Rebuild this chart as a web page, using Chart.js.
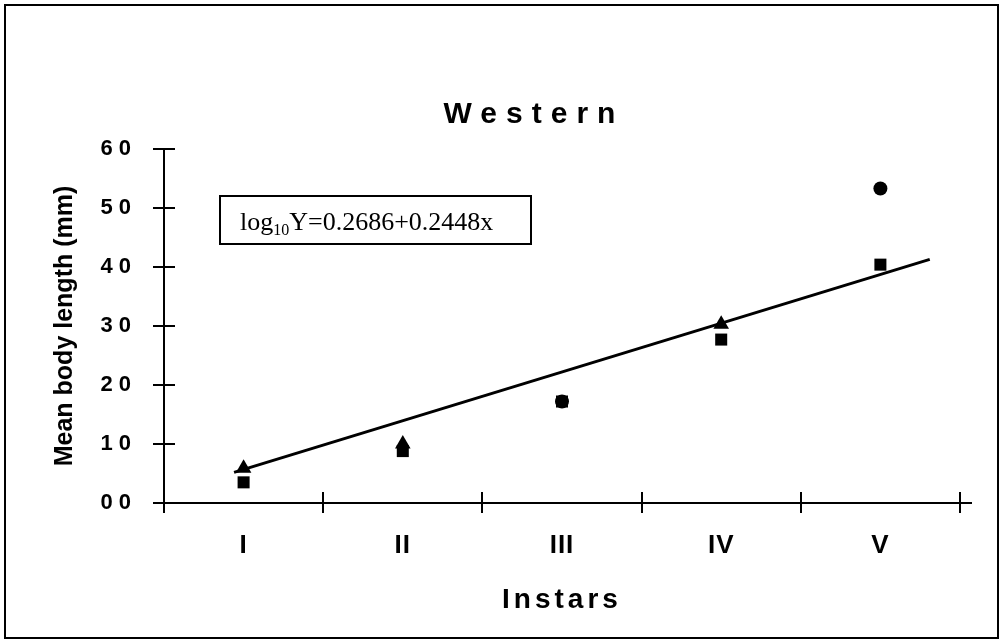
<!DOCTYPE html>
<html>
<head>
<meta charset="utf-8">
<title>Western</title>
<script src="https://cdn.jsdelivr.net/npm/chart.js@4/dist/chart.umd.min.js"></script>
<style>
  html, body { margin: 0; padding: 0; background: #fff; }
  #wrap { width: 1004px; height: 644px; position: relative; }
</style>
</head>
<body>
<div id="wrap"><canvas id="c" width="1004" height="644"></canvas></div>
<script>
// Instar stages along the x axis
const instars = ['I', 'II', 'III', 'IV', 'V'];

// y axis ticks and their printed labels
const yTickValues = [0, 10, 20, 30, 40, 50, 60];
const yTickLabels = ['00', '10', '20', '30', '40', '50', '60'];

// mean body length (mm) per instar, square markers
const lengthSquare = [3.5, 8.8, 17.2, 27.7, 40.4];
// mean body length (mm) per instar, upper markers
const lengthUpper = [5.9, 10.0, 17.2, 30.3, 53.3];
const upperMarkers = ['triangle', 'triangle', 'circle', 'triangle', 'circle'];

// fitted trend line, end points (instar index, length)
const trendX = [0.94, 5.31];
const trendY = [5.2, 41.3];

// regression equation shown in the box
const equationParts = ['log', '10', 'Y=0.2686+0.2448x'];

const SANS = '"Liberation Sans", Arial, Helvetica, sans-serif';
const SERIF = '"Liberation Serif", "Times New Roman", Times, serif';

function withSpacing(obj, method, px) {
  const orig = obj[method];
  obj[method] = function (...args) {
    const ctx = this.ctx;
    ctx.save();
    ctx.letterSpacing = px + 'px';
    const r = orig.apply(this, args);
    ctx.restore();
    return r;
  };
}

const decorations = {
  id: 'decorations',
  afterLayout(chart) {
    // centre the title a little right of the canvas middle
    chart.titleBlock.left = 64;
    chart.titleBlock.right = chart.width;
  },
  beforeDraw(chart) {
    const ctx = chart.ctx;
    ctx.save();
    ctx.fillStyle = '#fff';
    ctx.fillRect(0, 0, chart.width, chart.height);
    ctx.restore();
    if (!chart.$spacingSet) {
      chart.$spacingSet = true;
      withSpacing(chart.titleBlock, 'draw', 9);
      withSpacing(chart.scales.y, 'drawLabels', 6);
      withSpacing(chart.scales.x, 'drawLabels', 1);
      withSpacing(chart.scales.x, 'drawTitle', 4);
    }
  },
  afterDraw(chart) {
    const ctx = chart.ctx;
    const xs = chart.scales.x, ys = chart.scales.y;
    ctx.save();
    ctx.strokeStyle = '#000';
    ctx.lineWidth = 2;
    ctx.beginPath();
    // inner halves of the crossing tick marks
    ys.ticks.forEach(t => {
      const p = Math.round(ys.getPixelForValue(t.value));
      ctx.moveTo(xs.left, p);
      ctx.lineTo(xs.left + 11, p);
    });
    xs.ticks.forEach(t => {
      if (!Number.isInteger(t.value)) {
        const p = Math.round(xs.getPixelForValue(t.value));
        ctx.moveTo(p, ys.bottom);
        ctx.lineTo(p, ys.bottom - 11);
      }
    });
    // x axis runs on past the last tick
    ctx.moveTo(xs.right, Math.round(ys.bottom));
    ctx.lineTo(xs.right + 12, Math.round(ys.bottom));
    ctx.stroke();

    // equation box
    ctx.lineWidth = 2;
    ctx.strokeRect(220, 196, 311, 48);
    ctx.fillStyle = '#000';
    ctx.textBaseline = 'alphabetic';
    ctx.textAlign = 'left';
    let x = 240;
    const base = 230;
    ctx.font = '26px ' + SERIF;
    ctx.fillText(equationParts[0], x, base);
    x += ctx.measureText(equationParts[0]).width;
    ctx.font = '16px ' + SERIF;
    ctx.fillText(equationParts[1], x, base + 5);
    x += ctx.measureText(equationParts[1]).width;
    ctx.font = '26px ' + SERIF;
    ctx.fillText(equationParts[2], x, base);

    // outer frame
    ctx.lineWidth = 2;
    ctx.strokeRect(5, 5, 993, 633);
    ctx.restore();
  }
};

new Chart(document.getElementById('c'), {
  type: 'scatter',
  data: {
    datasets: [
      {
        label: 'Trend',
        type: 'line',
        data: trendX.map((x, i) => ({ x, y: trendY[i] })),
        borderColor: '#000',
        borderWidth: 3,
        pointRadius: 0,
        fill: false,
        tension: 0,
        order: 0
      },
      {
        label: 'Upper',
        data: instars.map((_, i) => ({ x: i + 1, y: lengthUpper[i] })),
        pointStyle: upperMarkers,
        pointRadius: [9, 9, 7, 9, 7],
        backgroundColor: '#000',
        borderColor: '#000',
        borderWidth: 0,
        order: 1
      },
      {
        label: 'Square',
        data: instars.map((_, i) => ({ x: i + 1, y: lengthSquare[i] })),
        pointStyle: 'rect',
        pointRadius: 8.5,
        backgroundColor: '#000',
        borderColor: '#000',
        borderWidth: 0,
        order: 2
      }
    ]
  },
  options: {
    responsive: false,
    devicePixelRatio: 1,
    animation: false,
    events: [],
    layout: { padding: { left: 0, right: 44, top: 0, bottom: 0 } },
    plugins: {
      legend: { display: false },
      tooltip: { enabled: false },
      title: {
        display: true,
        text: 'Western',
        color: '#000',
        font: { family: SANS, size: 30, weight: 'bold' },
        padding: { top: 97, bottom: 16 }
      }
    },
    scales: {
      x: {
        type: 'linear',
        min: 0.5,
        max: 5.5,
        afterBuildTicks: s => {
          const ticks = [];
          for (let i = 0; i <= instars.length; i++) {
            ticks.push({ value: i + 0.5 });
            if (i < instars.length) ticks.push({ value: i + 1 });
          }
          s.ticks = ticks;
        },
        ticks: {
          autoSkip: false,
          maxRotation: 0,
          color: '#000',
          padding: 17,
          font: { family: SANS, size: 26, weight: 'bold' },
          callback: v => (Number.isInteger(v) ? instars[v - 1] : '')
        },
        grid: {
          drawOnChartArea: false,
          drawTicks: true,
          tickLength: 10,
          lineWidth: 2,
          color: c => (c.tick && Number.isInteger(c.tick.value) ? 'rgba(0,0,0,0)' : '#000')
        },
        border: { display: true, color: '#000', width: 2 },
        title: {
          display: true,
          text: 'Instars',
          color: '#000',
          font: { family: SANS, size: 28, weight: 'bold' },
          padding: { top: 0, bottom: 27 }
        },
        afterFit: s => { s.height = 141; }
      },
      y: {
        min: 0,
        max: 60,
        afterBuildTicks: s => { s.ticks = yTickValues.map(v => ({ value: v })); },
        ticks: {
          color: '#000',
          padding: 16,
          font: { family: SANS, size: 22, weight: 'bold' },
          callback: (v, i) => yTickLabels[i]
        },
        grid: {
          drawOnChartArea: false,
          drawTicks: true,
          tickLength: 11,
          lineWidth: 2,
          color: '#000'
        },
        border: { display: true, color: '#000', width: 2 },
        title: {
          display: true,
          text: 'Mean body length (mm)',
          color: '#000',
          font: { family: SANS, size: 25, weight: 'bold' },
          padding: { top: 50, bottom: 0 }
        },
        afterFit: s => { s.width = 164; }
      }
    }
  },
  plugins: [decorations]
});
</script>
</body>
</html>
